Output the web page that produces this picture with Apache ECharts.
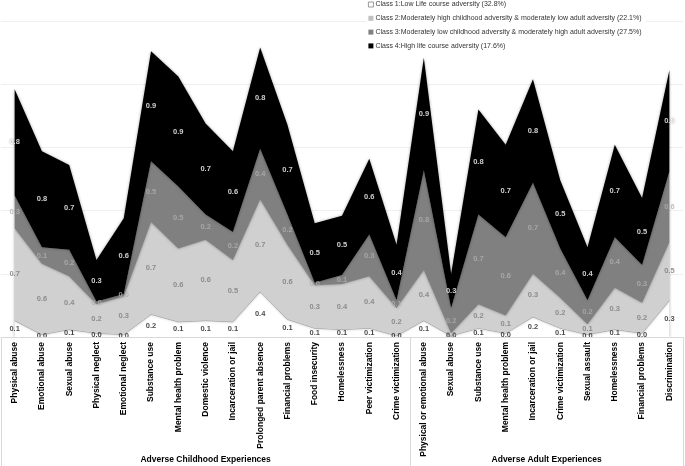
<!DOCTYPE html>
<html><head><meta charset="utf-8">
<script src="https://cdn.jsdelivr.net/npm/echarts@6/dist/echarts.min.js"></script>
<style>html,body{margin:0;padding:0;background:#fff}#c{width:685px;height:466px}</style>
</head><body><div id="c"></div>
<script>
const categories = ['Physical abuse','Emotional abuse','Sexual abuse','Physical neglect','Emotional neglect','Substance use','Mental health problem','Domestic violence','Incarceration or jail','Prolonged parent absence','Financial problems','Food insecurity','Homelessness','Peer victimization','Crime victimization','Physical or emotional abuse','Sexual abuse','Substance use','Mental health problem','Incarceration or jail','Crime victimization','Sexual assault','Homelessness','Financial problems','Discrimination'];
const groups = ['Adverse Childhood Experiences','Adverse Adult Experiences'];
const groupSizes = [15, 10];
const seriesNames = ['Class 1:Low Life course adversity (32.8%)','Class 2:Moderately high childhood adversity & moderately low adult adversity (22.1%)','Class 3:Moderately low childhood adversity & moderately high adult adversity (27.5%)','Class 4:High life course adversity (17.6%)'];
const class1 = [0.13,0.02,0.06,0.03,0.02,0.18,0.12,0.13,0.12,0.36,0.14,0.07,0.06,0.07,0.01,0.13,0.01,0.07,0.03,0.16,0.07,0.02,0.06,0.03,0.29];
const class2 = [0.73,0.56,0.42,0.23,0.30,0.73,0.58,0.64,0.49,0.73,0.59,0.34,0.36,0.41,0.22,0.40,0.02,0.19,0.14,0.34,0.24,0.08,0.33,0.24,0.46];
const class3 = [0.26,0.13,0.21,0.02,0.02,0.48,0.49,0.20,0.22,0.40,0.24,0.02,0.07,0.33,0.06,0.79,0.20,0.71,0.62,0.72,0.39,0.19,0.40,0.30,0.56];
const class4 = [0.84,0.76,0.67,0.33,0.60,0.87,0.87,0.72,0.64,0.80,0.71,0.47,0.47,0.60,0.44,0.89,0.27,0.83,0.73,0.82,0.54,0.42,0.73,0.53,0.80];

const FONT = '"Liberation Sans",Arial,sans-serif';
const all = [class1, class2, class3, class4];
const fills = ['#ffffff','#d0d0d0','#808080','#000000'];
const labelColors = ['#1a1a1a','#7a7a7a','#b0b0b0','#ffffff'];

const series = [];
all.forEach((arr, k) => {
  series.push({
    name: seriesNames[k], type: 'line', stack: 'total', data: arr,
    symbol: 'none', smooth: false,
    lineStyle: k === 0 ? {color: '#bdbdbd', width: 1} : {width: 0},
    itemStyle: {color: fills[k]},
    areaStyle: {color: fills[k], opacity: 1, shadowColor: 'rgba(0,0,0,0.35)', shadowBlur: 3},
    z: 2 + k
  });
});
// value labels placed at the middle of each band
all.forEach((arr, k) => {
  const pts = arr.map((v, i) => {
    let below = 0;
    for (let j = 0; j < k; j++) below += all[j][i];
    return [i, below + v / 2, v];
  });
  series.push({
    type: 'scatter', data: pts, symbolSize: 0, silent: true, z: 10,
    label: {show: true, position: 'inside', formatter: p => p.value[2].toFixed(1),
      color: labelColors[k], fontSize: 7.5, fontWeight: 'bold', fontFamily: FONT,
      textShadowColor: k === 3 ? 'rgba(0,0,0,0.5)' : 'transparent', textShadowBlur: k === 3 ? 2 : 0}
  });
});

const chart = echarts.init(document.getElementById('c'), null, {renderer: 'canvas'});
chart.setOption({
  animation: false,
  backgroundColor: '#fff',
  grid: {left: 1, right: 2, top: 21, bottom: 129, containLabel: false},
  legend: {
    orient: 'vertical', left: 366, top: 0, itemGap: 6.8, itemWidth: 5, itemHeight: 5,
    backgroundColor: '#fff', padding: [1, 4, 3, 2], icon: 'rect',
    textStyle: {fontSize: 7, lineHeight: 6, color: '#333', fontFamily: FONT, padding: [0,0,0,-3]},
    data: seriesNames.map((n, k) => ({name: n, itemStyle: k === 0 ? {color: '#fff', borderColor: '#808080', borderWidth: 0.8} : {color: k===1 ? '#c0c0c0' : fills[k]}}))
  },
  xAxis: {
    type: 'category', data: categories, boundaryGap: true,
    axisLine: {show: true, lineStyle: {color: '#d9d9d9'}},
    axisTick: {show: true, length: 130, interval: (i) => i === 0 || i === groupSizes[0], lineStyle: {color: '#d9d9d9'}},
    axisLabel: {rotate: 90, interval: 0, margin: 5, fontSize: 8.5, fontWeight: 'bold', color: '#000', fontFamily: FONT},
    z: 20
  },
  yAxis: {
    type: 'value', min: 0, max: 2.5, interval: 0.5,
    axisLabel: {show: false}, axisLine: {show: false}, axisTick: {show: false},
    splitLine: {show: true, lineStyle: {color: '#efefef'}}
  },
  series: series
});
const px = i => chart.convertToPixel({xAxisIndex: 0}, i);
let start = 0;
const texts = groups.map((g, gi) => {
  const a = start, b = start + groupSizes[gi] - 1;
  start += groupSizes[gi];
  return {type: 'text', x: (px(a) + px(b)) / 2, y: 460,
    style: {text: g, fontSize: 8.5, fontWeight: 'bold', fill: '#000', fontFamily: FONT, align: 'center', verticalAlign: 'middle'}};
});
chart.setOption({graphic: texts});
</script></body></html>
